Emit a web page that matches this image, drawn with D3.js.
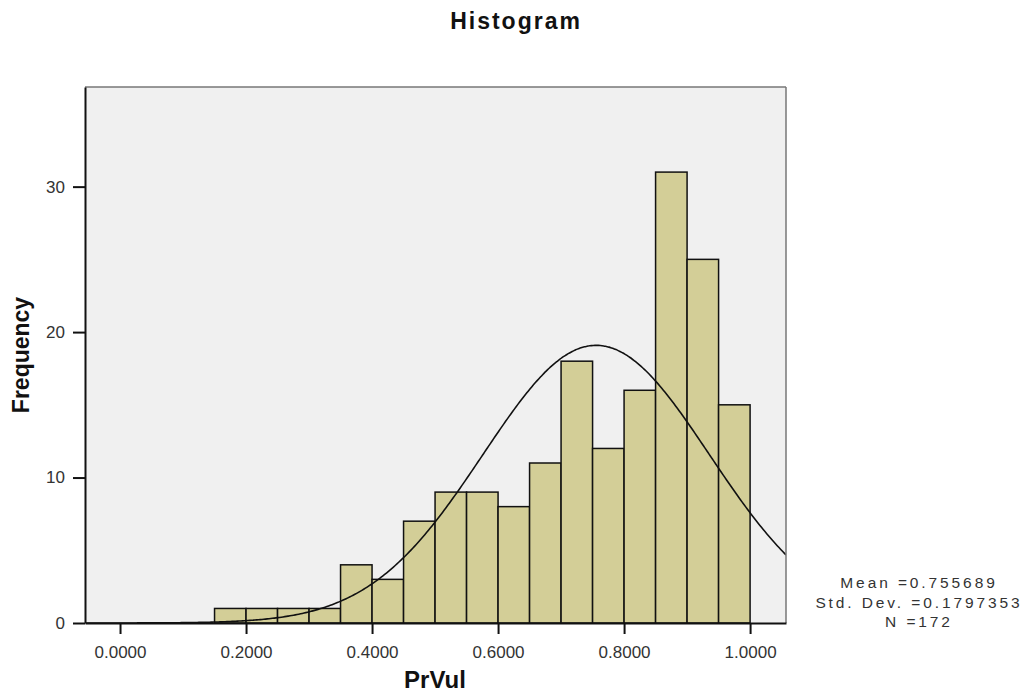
<!DOCTYPE html>
<html>
<head>
<meta charset="utf-8">
<script src="https://cdn.jsdelivr.net/npm/d3@7"></script>
<style>
  body { margin: 0; background: #fff; }
  text { font-family: "Liberation Sans", Arial, Helvetica, sans-serif; }
</style>
</head>
<body>
<script>
// ********************** DATA **************************************************************
var binStarts = [0.15, 0.20, 0.25, 0.30, 0.35, 0.40, 0.45, 0.50, 0.55, 0.60, 0.65, 0.70, 0.75, 0.80, 0.85, 0.90, 0.95];
var counts    = [1, 1, 1, 1, 4, 3, 7, 9, 9, 8, 11, 18, 12, 16, 31, 25, 15];
var binWidth = 0.05;
var xTicks = [0, 0.2, 0.4, 0.6, 0.8, 1.0];
var yTicks = [0, 10, 20, 30];
var mean = 0.755689;
var stdDev = 0.1797353;
var n = 172;
var statLines = ["Mean =0.755689", "Std. Dev. =0.1797353", "N =172"];

// ********************** SETUP **************************************************************
var width = 1024, height = 695;
var plot = { left: 85, right: 786, top: 87, bottom: 623 };

var svg = d3.select("body").append("svg")
    .attr("width", width)
    .attr("height", height);

var x = d3.scaleLinear()
    .domain([-0.0556, 1.057])
    .range([plot.left, plot.right]);

var y = d3.scaleLinear()
    .domain([0, 36.85])
    .range([plot.bottom, plot.top]);

// plot background
svg.append("rect")
    .attr("x", plot.left)
    .attr("y", plot.top)
    .attr("width", plot.right - plot.left)
    .attr("height", plot.bottom - plot.top)
    .attr("fill", "#f0f0f0");

// clip for curve
svg.append("clipPath").attr("id", "plot-clip")
  .append("rect")
    .attr("x", plot.left)
    .attr("y", plot.top)
    .attr("width", plot.right - plot.left)
    .attr("height", plot.bottom - plot.top);

// ********************** BARS **************************************************************
svg.selectAll("rect.bar")
    .data(binStarts)
    .enter().append("rect")
    .attr("class", "bar")
    .attr("x", function(d) { return x(d); })
    .attr("y", function(d, i) { return y(counts[i]); })
    .attr("width", function(d) { return x(d + binWidth) - x(d); })
    .attr("height", function(d, i) { return y(0) - y(counts[i]); })
    .attr("fill", "#d3ce97")
    .attr("stroke", "#111")
    .attr("stroke-width", 1.5);

// ********************** NORMAL CURVE **************************************************************
var scale = n * binWidth / (stdDev * Math.sqrt(2 * Math.PI));
var curvePts = d3.range(0, 401).map(function(i) {
    var xv = x.domain()[0] + (x.domain()[1] - x.domain()[0]) * i / 400;
    return [xv, scale * Math.exp(-0.5 * Math.pow((xv - mean) / stdDev, 2))];
});

svg.append("path")
    .datum(curvePts)
    .attr("clip-path", "url(#plot-clip)")
    .attr("fill", "none")
    .attr("stroke", "#111")
    .attr("stroke-width", 1.6)
    .attr("d", d3.line()
        .x(function(d) { return x(d[0]); })
        .y(function(d) { return y(d[1]); })
        .curve(d3.curveBasis));

// frame: top and right lighter, left and bottom dark
svg.append("line")
    .attr("x1", plot.left).attr("x2", plot.right)
    .attr("y1", plot.top).attr("y2", plot.top)
    .attr("stroke", "#777").attr("stroke-width", 1.5);
svg.append("line")
    .attr("x1", plot.right).attr("x2", plot.right)
    .attr("y1", plot.top).attr("y2", plot.bottom)
    .attr("stroke", "#777").attr("stroke-width", 1.5);

// ********************** AXES **************************************************************
var xAxis = svg.append("g")
    .attr("transform", "translate(0," + plot.bottom + ")")
    .call(d3.axisBottom(x).tickValues(xTicks).tickFormat(d3.format(".4f")).tickSize(11).tickSizeOuter(0).tickPadding(12));

var yAxis = svg.append("g")
    .attr("transform", "translate(" + plot.left + ",0)")
    .call(d3.axisLeft(y).tickValues(yTicks).tickFormat(d3.format("d")).tickSize(12).tickSizeOuter(0).tickPadding(8));

[xAxis, yAxis].forEach(function(ax) {
    ax.select(".domain").attr("stroke", "#111").attr("stroke-width", 2);
    ax.selectAll(".tick line").attr("stroke", "#111").attr("stroke-width", 2);
    ax.selectAll(".tick text")
        .style("font-size", "17px")
        .style("font-family", "Liberation Sans, Arial, sans-serif")
        .attr("fill", "#333");
});

// ********************** TITLES **************************************************************
svg.append("text")
    .attr("x", 516)
    .attr("y", 29)
    .attr("text-anchor", "middle")
    .text("Histogram")
    .style("font-size", "23px")
    .style("letter-spacing", "2px")
    .style("font-weight", "bold")
    .attr("fill", "#111");

svg.append("text")
    .attr("x", 435)
    .attr("y", 688)
    .attr("text-anchor", "middle")
    .text("PrVul")
    .style("font-size", "24px")
    .style("font-weight", "bold")
    .attr("fill", "#111");

svg.append("text")
    .attr("transform", "translate(29," + ((plot.top + plot.bottom) / 2) + ") rotate(-90)")
    .attr("text-anchor", "middle")
    .text("Frequency")
    .style("font-size", "23px")
    .style("font-weight", "bold")
    .attr("fill", "#111");

// stats box
svg.selectAll("text.stat")
    .data(statLines)
    .enter().append("text")
    .attr("class", "stat")
    .attr("x", 919)
    .attr("y", function(d, i) { return 588 + i * 19.5; })
    .attr("text-anchor", "middle")
    .text(function(d) { return d; })
    .style("font-size", "15.5px")
    .style("letter-spacing", "2.9px")
    .attr("fill", "#333");
</script>
</body>
</html>
